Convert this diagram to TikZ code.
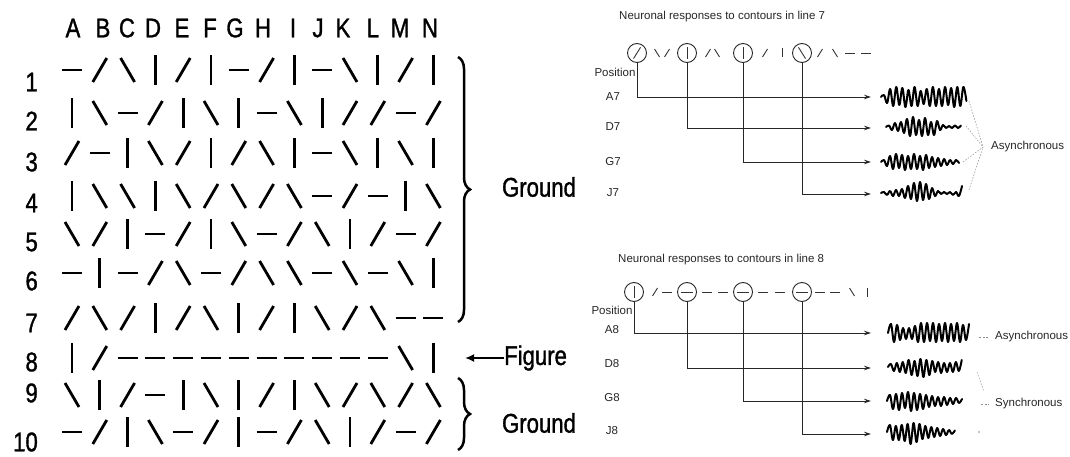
\documentclass[tikz,border=0pt]{standalone}
\usepackage{fontspec}
\setmainfont{Liberation Sans}
\newfontfamily\bigsans[FakeStretch=0.82,FakeBold=1.2]{Liberation Sans}
\usetikzlibrary{arrows.meta,decorations.pathreplacing}

% grid segments: h = horizontal, v = vertical, s = slash, b = backslash
\newcommand\gsegh[2]{\draw[gridseg] ({#1-10},{#2}) -- ({#1+10},{#2});}
\newcommand\gsegv[2]{\draw[gridseg] ({#1},{#2-15}) -- ({#1},{#2+15});}
\newcommand\gsegs[2]{\draw[gridseg] ({#1-7},{#2+12}) -- ({#1+7},{#2-12});}
\newcommand\gsegb[2]{\draw[gridseg] ({#1-7},{#2-12}) -- ({#1+7},{#2+12});}
\newcommand\gridrow[2]{%
  \foreach \c [count=\k from 0] in {#2} {%
    \pgfmathsetmacro\xx{72+27.8*\k}%
    \csname gseg\c\endcsname{\xx}{#1}}}

% small contour marks in the response panels
\newcommand\msegh[3]{\draw[mini] ({#1-5*#3},{#2}) -- ({#1+5*#3},{#2});}
\newcommand\msegv[3]{\draw[mini] ({#1},{#2-4.5*#3}) -- ({#1},{#2+4.5*#3});}
\newcommand\msegs[3]{\draw[mini] ({#1-2.5*#3},{#2+4*#3}) -- ({#1+2.5*#3},{#2-4*#3});}
\newcommand\msegb[3]{\draw[mini] ({#1-2.5*#3},{#2-4*#3}) -- ({#1+2.5*#3},{#2+4*#3});}
\newcommand\mseg[4]{\csname mseg#1\endcsname{#2}{#3}{#4}}

% oscillating response trace: x0, baseline y, step, signed offsets (negative = up)
\newcommand\wavetrace[4]{%
  \gdef\wpts{}%
  \foreach \a [count=\i] in {#4} {%
    \pgfmathsetmacro\wx{#1+\i*#3}%
    \pgfmathsetmacro\wy{#2+\a}%
    \xdef\wpts{\wpts (\wx,\wy)}}%
  \draw[wave] plot[smooth, tension=0.6] coordinates {(#1,#2) \wpts};}

\begin{document}
\begin{tikzpicture}[x=1pt,y=-1pt,
  gridseg/.style={line width=2.8pt, black},
  bigtxt/.style={font=\bigsans\fontsize{27}{30}\selectfont, inner sep=0pt},
  rtext/.style={font=\fontsize{11.5}{13}\selectfont, text=black!85, inner sep=0pt},
  mini/.style={line width=0.9pt, black!80},
  cell/.style={circle, draw=black!85, line width=0.9pt, minimum size=19pt, inner sep=0pt},
  conn/.style={line width=0.8pt, black!85, -{Stealth[length=7pt,width=4.5pt]}},
  wave/.style={line width=2pt, black, line join=round, line cap=round},
  faint/.style={line width=0.5pt, black!45, dash pattern=on 1.5pt off 1.5pt},
  bracestyle/.style={line width=2.5pt, decorate, decoration={brace, amplitude=12pt}}
]
\useasboundingbox (0,0) rectangle (1070,457);

% ---------- stimulus grid ----------
\foreach \l/\x in {A/73,B/103,C/127,D/153,E/182,F/210,G/235,H/263,I/293,J/318,K/343,L/373,M/400,N/430}
  \node[bigtxt] (col\l) at (\x,28) {\l};
\foreach \n/\y in {1/82,2/121,3/162,4/203,5/242,6/281,7/323,8/362,9/393,10/442}
  \node[bigtxt, anchor=east] (row\n) at (38,\y) {\n};

\gridrow{70}{h,s,b,v,s,v,h,s,v,h,b,v,s,v}
\gridrow{113}{v,b,h,s,v,b,v,h,b,v,s,s,h,s}
\gridrow{153}{s,h,v,b,s,v,s,b,v,h,b,v,b,v}
\gridrow{196}{v,b,b,v,b,s,b,s,b,h,s,h,v,b}
\gridrow{234}{b,s,v,h,s,v,b,h,s,b,v,s,h,s}
\gridrow{273}{h,v,h,s,b,h,s,b,b,h,b,h,b,v}
\gridrow{318}{s,b,s,v,s,b,v,s,v,b,s,b,h,h}
\gridrow{358}{v,s,h,h,h,h,h,h,h,h,h,h,b,v}
\gridrow{395}{b,v,s,h,v,b,v,s,v,b,s,b,s,b}
\gridrow{432}{h,s,v,b,h,s,v,h,s,b,v,s,h,s}

% braces and labels
\coordinate (bt1) at (458,57);
\coordinate (bb1) at (458,322);
\coordinate (bt2) at (458,378);
\coordinate (bb2) at (458,450);
\draw[bracestyle] (bt1) -- (bb1);
\draw[bracestyle] (bt2) -- (bb2);
\node[bigtxt] (ground1) at (539,187) {Ground};
\node[bigtxt] (ground2) at (539,423) {Ground};
\node[bigtxt, anchor=west] (figure) at (504,358) {Figure};
\coordinate (figtip) at (465,358);
\draw[line width=2.5pt, -{Latex[length=9pt,width=8pt]}] (figure.west) -- (figtip);

% ---------- responses, line 7 ----------
\node[rtext, anchor=west] (title7) at (619,17) {Neuronal responses to contours in line 7};
\node[cell] (c7a) at (637,53) {};
\node[cell] (c7d) at (687,53) {};
\node[cell] (c7g) at (743,53) {};
\node[cell] (c7j) at (802,53) {};
\mseg{s}{637}{53}{1.4}
\mseg{v}{687}{53}{1.3}
\mseg{v}{743}{53}{1.3}
\mseg{b}{802}{53}{1.4}
\foreach \c/\x in {b/657,s/667,s/708,b/717,s/765,v/782,s/820,b/835,h/850,h/866}
  \mseg{\c}{\x}{53}{1};

\node[rtext] (pos7) at (615,72) {Position};
\node[rtext] (lA7) at (613,97) {A7};
\node[rtext] (lD7) at (613,127) {D7};
\node[rtext] (lG7) at (613,162) {G7};
\node[rtext] (lJ7) at (613,193) {J7};

\coordinate (e7a) at (871,97);
\coordinate (e7d) at (871,128);
\coordinate (e7g) at (871,162);
\coordinate (e7j) at (871,194);
\draw[conn] (c7a.south) |- (e7a);
\draw[conn] (c7d.south) |- (e7d);
\draw[conn] (c7g.south) |- (e7g);
\draw[conn] (c7j.south) |- (e7j);

\wavetrace{881}{97}{3.05}{-2,6,-8,9,-10,8,-9,10,-7,9,-10,9,-6,7,-8,9,-10,9,-8,9,-10,8,-9,10,-10,9,-10,4}
\wavetrace{886}{127}{3.0}{-1.5,3,-4,4,-5,6,-8,9,-10,8,-7,9,-9,8,-5,8,-6,3,-2,1,-1,1,-1.5,1,-1.5}
\wavetrace{881}{162}{3.0}{-2,4,-6,7,-8,6,-7,8,-6,7,-8,7,-6,8,-7,6,-5,5,-4,4,-3,3,-2,2,-2,1}
\wavetrace{881}{193}{3.0}{-1,2,-2,3,-3,3,-4,5,-7,6,-10,8,-11,7,-9,6,-5,3,-2,1,-1,1,-1,2,-1,3,-7}

\coordinate (apex7) at (983,147);
\coordinate (w7a) at (969,101);
\coordinate (w7d) at (966,126);
\coordinate (w7g) at (963,162);
\coordinate (w7j) at (969,190);
\foreach \w in {w7a,w7d,w7g,w7j} \draw[faint] (\w) -- (apex7);
\node[rtext, anchor=west] (async7) at (991,147) {Asynchronous};

% ---------- responses, line 8 ----------
\node[rtext, anchor=west] (title8) at (618,260) {Neuronal responses to contours in line 8};
\node[cell] (c8a) at (634,292) {};
\node[cell] (c8d) at (687,292) {};
\node[cell] (c8g) at (743,292) {};
\node[cell] (c8j) at (802,292) {};
\mseg{v}{634}{292}{1.3}
\mseg{h}{687}{292}{1.15}
\mseg{h}{743}{292}{1.15}
\mseg{h}{802}{292}{1.15}
\foreach \c/\x in {s/655,h/667,h/707,h/723,h/763,h/780,h/820,h/835,b/852,v/867}
  \mseg{\c}{\x}{292}{1};

\node[rtext] (pos8) at (612,310) {Position};
\node[rtext] (lA8) at (612,330) {A8};
\node[rtext] (lD8) at (612,364) {D8};
\node[rtext] (lG8) at (612,398) {G8};
\node[rtext] (lJ8) at (612,431) {J8};

\coordinate (e8a) at (871,333);
\coordinate (e8d) at (871,368);
\coordinate (e8g) at (871,401);
\coordinate (e8j) at (871,434);
\draw[conn] (c8a.south) |- (e8a);
\draw[conn] (c8d.south) |- (e8d);
\draw[conn] (c8g.south) |- (e8g);
\draw[conn] (c8j.south) |- (e8j);

\wavetrace{888}{333}{3.0}{-9,9,-8,7,-5,6,-5,6,-7,9,-10,9,-10,8,-10,9,-9,8,-10,9,-9,8,-10,9,-8,7,-9}
\wavetrace{888}{367}{2.95}{-3,4,-4,5,-5,6,-7,8,-6,9,-8,10,-7,8,-6,5,-5,6,-4,5,-4,5,-5,4,-7}
\wavetrace{887}{401}{3.0}{-6,8,-7,9,-8,7,-9,10,-8,9,-7,8,-6,6,-5,5,-4,5,-4,4,-3,3,-3,2,-2}
\wavetrace{887}{432}{2.95}{-7,8,-6,8,-7,9,-8,12,-9,10,-8,7,-6,6,-5,5,-4,4,-3,3,-2,2,-1.5}

\coordinate (d8s) at (979,337);
\coordinate (d8e) at (988,337);
\draw[faint, dash pattern=on 2pt off 1.5pt] (d8s) -- (d8e);
\node[rtext, anchor=west] (async8) at (995,337) {Asynchronous};
\coordinate (s8s) at (981,404);
\coordinate (s8e) at (989,404);
\draw[faint, dash pattern=on 2pt off 1.5pt] (s8s) -- (s8e);
\node[rtext, anchor=west] (sync8) at (995,404) {Synchronous};
\coordinate (w8d) at (977,372);
\coordinate (w8m) at (984,392);
\draw[faint] (w8d) -- (w8m);
\coordinate (w8j) at (979,432);
\fill[black!45] (w8j) circle (0.8pt);
\end{tikzpicture}
\end{document}
